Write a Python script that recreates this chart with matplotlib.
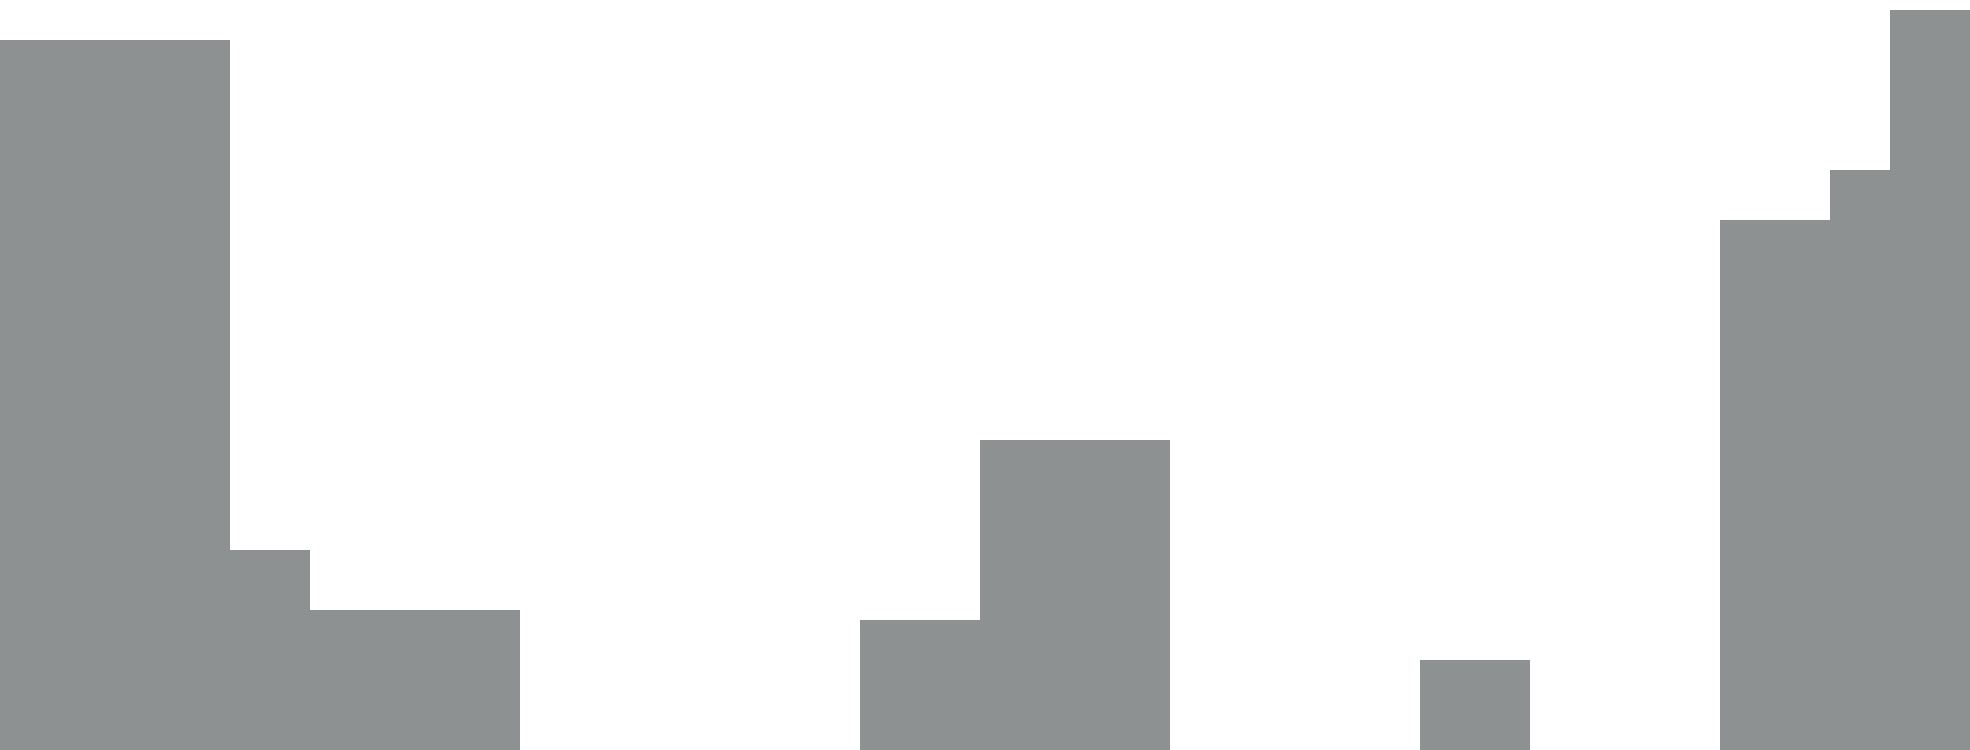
import numpy as np
from matplotlib import pyplot as plt

# bin edges and bar heights
bin_edges = [0, 230, 310, 520, 860, 980, 1170, 1420, 1530, 1720, 1830, 1890, 1970]
heights = [710, 200, 140, 0, 130, 310, 0, 90, 0, 530, 580, 740]

bar_color = "#8d9191"

fig = plt.figure(figsize=(19.7, 7.5), dpi=100)
ax = fig.add_axes([0, 0, 1, 1])

widths = np.diff(bin_edges)
ax.bar(bin_edges[:-1], heights, width=widths, align="edge",
       color=bar_color, linewidth=0)

ax.set_xlim(0, 1970)
ax.set_ylim(0, 750)
ax.axis("off")

plt.savefig("out.png", dpi=100, facecolor="white")
